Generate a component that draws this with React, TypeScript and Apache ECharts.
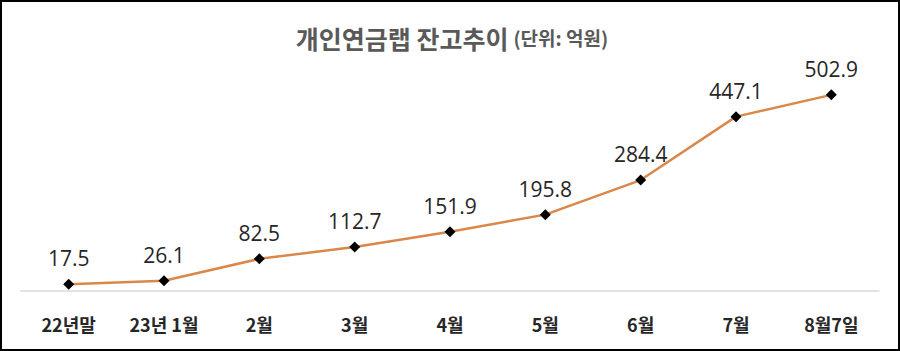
import React, { useEffect, useRef } from "react";
import * as echarts from "echarts";

const categories = ["22년말", "23년 1월", "2월", "3월", "4월", "5월", "6월", "7월", "8월7일"];
const balances = [17.5, 26.1, 82.5, 112.7, 151.9, 195.8, 284.4, 447.1, 502.9];
const titleMain = "개인연금랩 잔고추이";
const titleUnit = "(단위: 억원)";

export default function App() {
  const ref = useRef<HTMLDivElement>(null);
  useEffect(() => {
    document.body.style.margin = "0";
    const chart = echarts.init(ref.current!, null, { renderer: "svg" });
    chart.setOption({
      animation: false,
      backgroundColor: "transparent",
      title: {
        text: `{a|${titleMain}} {b|${titleUnit}}`,
        left: 447,
        textAlign: "center",
        top: 20,
        textStyle: {
          rich: {
            a: { fontSize: 25, fontWeight: "bold", color: "#595959", fontFamily: "Noto Sans CJK KR" },
            b: { fontSize: 19, fontWeight: "bold", color: "#595959", fontFamily: "Noto Sans CJK KR" },
          },
        },
      },
      grid: { left: 21, right: 21, top: 57, bottom: 60, containLabel: false },
      xAxis: {
        type: "category",
        data: categories,
        boundaryGap: true,
        axisLine: { show: true, lineStyle: { color: "#d9d9d9", width: 1.5 } },
        axisTick: { show: false },
        axisLabel: {
          margin: 24,
          fontSize: 18,
          fontWeight: "bold",
          color: "#262626",
          fontFamily: "Noto Sans CJK KR",
        },
      },
      yAxis: {
        type: "value",
        min: 0,
        max: 600,
        show: false,
        splitLine: { show: false },
      },
      series: [
        {
          type: "line",
          data: balances,
          symbol: "diamond",
          symbolSize: 11,
          itemStyle: { color: "#000000" },
          lineStyle: { color: "#D9884A", width: 2.5 },
          label: {
            show: true,
            position: "top",
            distance: 10,
            fontSize: 21,
            color: "#262626",
            fontFamily: "Open Sans",
            formatter: (p: any) => p.value.toFixed(1),
          },
        },
      ],
    });
    return () => chart.dispose();
  }, []);
  return (
    <div
      style={{
        position: "fixed",
        left: 0,
        top: 0,
        width: 900,
        height: 351,
        boxSizing: "border-box",
        border: "2px solid #000",
        background: "#fff",
      }}
    >
      <div ref={ref} style={{ position: "absolute", left: -2, top: -2, width: 900, height: 351 }} />
    </div>
  );
}
